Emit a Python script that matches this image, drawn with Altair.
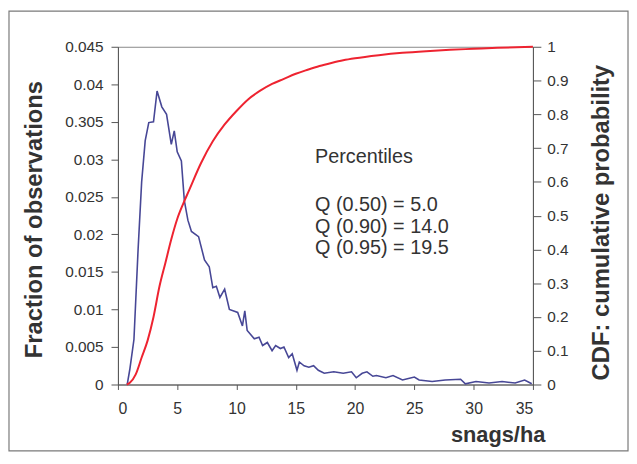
import altair as alt
import pandas as pd

# ---- data ----
snags = [0.78, 1.0, 1.35, 1.7, 2.0, 2.3, 2.6, 3.0, 3.3, 3.7, 4.1, 4.5, 4.75, 5.0, 5.35,
         5.6, 5.9, 6.2, 6.8, 7.3, 7.7, 8.0, 8.3, 8.6, 9.0, 9.4, 10.1, 10.5, 10.7, 10.9,
         11.5, 11.9, 12.2, 12.6, 13.0, 13.3, 13.7, 14.0, 14.4, 14.7, 15.1, 15.3, 15.7,
         16.1, 16.5, 16.9, 17.4, 18.2, 19.0, 19.7, 20.1, 20.6, 21.0, 21.5, 21.8, 22.6,
         23.2, 24.0, 24.5, 25.0, 25.4, 26.5, 27.6, 28.9, 29.3, 30.2, 31.3, 32.4, 33.5,
         34.3, 34.9]
fraction = [0.0, 0.002, 0.006, 0.018, 0.027, 0.0325, 0.0349, 0.035, 0.0391, 0.037, 0.036,
            0.032, 0.0338, 0.031, 0.0298, 0.0245, 0.0219, 0.0204, 0.0197, 0.0166, 0.0157,
            0.0129, 0.0131, 0.0116, 0.0127, 0.0100, 0.0096, 0.0078, 0.0098, 0.0072,
            0.0061, 0.0063, 0.0052, 0.0056, 0.0045, 0.0052, 0.0048, 0.0050, 0.0036,
            0.0041, 0.0019, 0.0030, 0.0025, 0.0023, 0.0025, 0.0019, 0.0015, 0.0017,
            0.0015, 0.0017, 0.0009, 0.0015, 0.0017, 0.0011, 0.0012, 0.0009, 0.0012,
            0.0006, 0.0008, 0.0010, 0.0006, 0.0004, 0.0006, 0.0007, 0.0001, 0.0004,
            0.0002, 0.0004, 0.0002, 0.0006, 0.0001]

cdf_x = [0.75, 1.0, 1.5, 2.0, 2.5, 3.0, 3.5, 4.0, 4.5, 5.0, 5.5, 6.0, 7.0, 8.0, 9.0, 10.0,
         11.0, 12.0, 13.0, 14.0, 15.0, 16.0, 17.0, 18.0, 19.0, 20.0, 22.0, 24.0, 26.0,
         28.0, 30.0, 32.0, 35.0]
cdf_y = [0.0, 0.005, 0.03, 0.08, 0.13, 0.2, 0.29, 0.36, 0.43, 0.49, 0.535, 0.575, 0.655,
         0.72, 0.77, 0.81, 0.845, 0.87, 0.89, 0.905, 0.92, 0.932, 0.943, 0.952, 0.96,
         0.966, 0.975, 0.982, 0.987, 0.991, 0.994, 0.997, 1.0]

left_ticks = [0, 0.005, 0.01, 0.015, 0.02, 0.025, 0.03, 0.035, 0.04, 0.045]
right_ticks = [0, 0.1, 0.2, 0.3, 0.4, 0.5, 0.6, 0.7, 0.8, 0.9, 1.0]
x_ticks = [0, 5, 10, 15, 20, 25, 30, 35]

note_lines = ["Percentiles", "Q (0.50) = 5.0", "Q (0.90) = 14.0", "Q (0.95) = 19.5"]
note_x = [16.62, 16.62, 16.62, 16.62]
note_y = [0.0303, 0.0239, 0.0210, 0.0182]

FONT = "Liberation Sans"
TXT = "#333333"
AX = "#555555"

W, H = 419, 341

blue_df = pd.DataFrame({"snags": snags, "fraction": fraction})
red_df = pd.DataFrame({"snags": cdf_x, "cdf": cdf_y})
note_df = pd.DataFrame({"x": note_x, "y": note_y, "t": note_lines})

xscale = alt.Scale(domain=[0, 35], nice=False)
xaxis = alt.Axis(values=x_ticks, grid=False, title="snags/ha", titleFontSize=22,
                 titleFontWeight="bold", titleColor=TXT, titleAlign="right",
                 titleAnchor="end", titleX=431, titleY=51, titleBaseline="middle",
                 labelFontSize=16, labelColor=TXT, labelPadding=11, tickSize=5,
                 tickColor=AX, domainColor=AX, labelFont=FONT, titleFont=FONT)

blue = alt.Chart(blue_df).mark_line(color="#474796", strokeWidth=1.6).encode(
    x=alt.X("snags:Q", scale=xscale, axis=xaxis),
    y=alt.Y("fraction:Q", scale=alt.Scale(domain=[0, 0.045], nice=False),
            axis=alt.Axis(values=left_ticks, grid=False, orient="left",
                          labelExpr="datum.value > 0.0349 && datum.value < 0.0351 ? '0.305' : format(datum.value, '~g')",
                          title="Fraction of observations", titleFontSize=24,
                          titleFontWeight="bold", titleColor=TXT, titleX=-84, titleY=174,
                          titleAngle=270, titleAlign="center", titleBaseline="middle",
                          labelFontSize=15.5, labelColor=TXT, labelPadding=8, tickSize=7,
                          tickColor=AX, domainColor=AX, labelFont=FONT, titleFont=FONT)),
)

red = alt.Chart(red_df).mark_line(color="#ee2330", strokeWidth=2,
                                  interpolate="monotone").encode(
    x=alt.X("snags:Q", scale=xscale),
    y=alt.Y("cdf:Q", scale=alt.Scale(domain=[0, 1], nice=False),
            axis=alt.Axis(values=right_ticks, grid=False, orient="right",
                          labelExpr="format(datum.value, '~g')",
                          title="CDF: cumulative probability", titleFontSize=24,
                          titleFontWeight="bold", titleColor=TXT, titleX=69, titleY=177,
                          titleAngle=270, titleAlign="center", titleBaseline="middle",
                          labelFontSize=15.5, labelColor=TXT, labelPadding=6, tickSize=8,
                          tickColor=AX, domainColor=AX, labelFont=FONT, titleFont=FONT)),
)

notes = alt.Chart(note_df).mark_text(align="left", baseline="middle", fontSize=20,
                                     font=FONT, color=TXT).encode(
    x=alt.X("x:Q", scale=xscale),
    y=alt.Y("y:Q", scale=alt.Scale(domain=[0, 0.045], nice=False), axis=None),
    text="t:N",
)

frame = alt.Chart(pd.DataFrame({"a": [0]})).mark_rect(
    fillOpacity=0, stroke="#7a7a7a", strokeWidth=1.2).encode(
    x=alt.value(-110), x2=alt.value(515), y=alt.value(-36), y2=alt.value(408))

chart = alt.layer(blue, red, notes, frame).resolve_scale(y="independent").properties(
    width=W, height=H,
    autosize=alt.AutoSizeParams(type="none"),
    padding={"left": 111, "top": 37, "right": 97, "bottom": 68},
    background="white",
).configure_view(stroke="#888888", strokeWidth=1).configure_text(font=FONT)

chart.save("out.html", embed_options={"renderer": "svg", "actions": False})
